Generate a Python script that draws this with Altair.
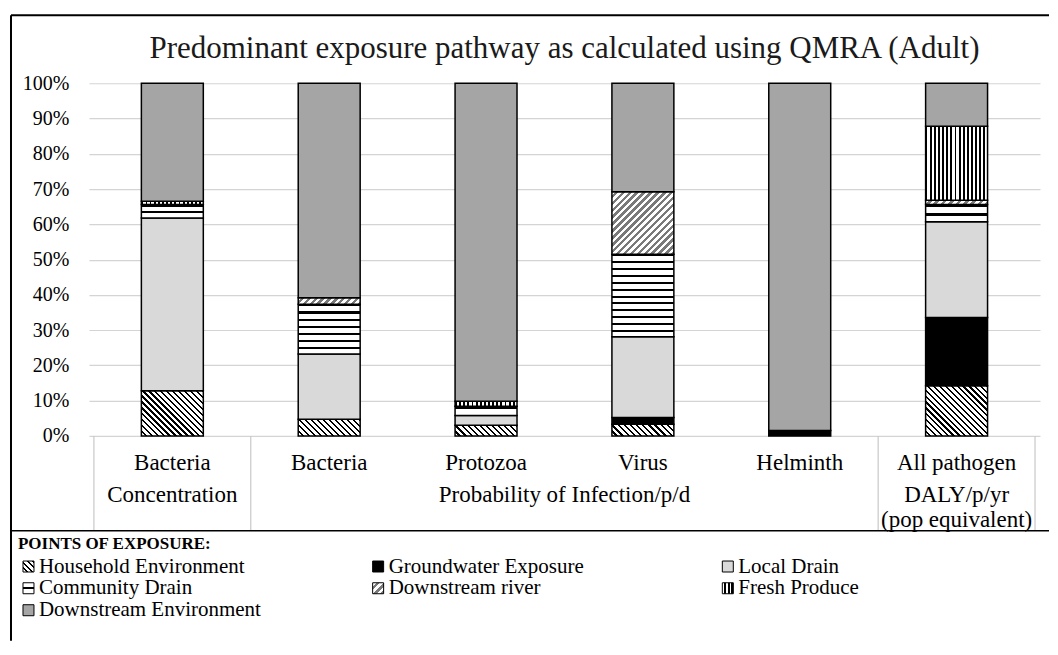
import json
import altair as alt
import pandas as pd

# ---------------- data ----------------
chart_title = "Predominant exposure pathway as calculated using QMRA (Adult)"
categories = ["Bacteria", "Bacteria", "Protozoa", "Virus", "Helminth", "All pathogen"]
# (label, first column, last column + 1)
measure_labels = [("Concentration", 0, 1), ("Probability of Infection/p/d", 1, 5), ("DALY/p/yr", 5, 6)]
note_labels = [("(pop equivalent)", 5, 6)]
series = ["Household Environment", "Groundwater Exposure", "Local Drain", "Community Drain",
          "Downstream river", "Fresh Produce", "Downstream Environment"]
household = [12.8, 4.7, 3.0, 3.3, 0.0, 14.2]
groundwater = [0.0, 0.0, 0.0, 1.9, 1.5, 19.4]
local_drain = [49.0, 18.5, 2.8, 22.9, 0.0, 27.1]
community_drain = [3.8, 14.1, 2.6, 23.4, 0.0, 4.9]
downstream_river = [0.0, 1.9, 0.0, 17.7, 0.0, 1.2]
fresh_produce = [0.9, 0.0, 1.4, 0.0, 0.0, 21.0]
downstream_env = [33.5, 60.8, 90.2, 30.8, 98.5, 12.2]
values = [household, groundwater, local_drain, community_drain, downstream_river, fresh_produce, downstream_env]

# ---------------- layout / style ----------------
W, H, BARW = 952, 353, 62
FONT = "Liberation Serif"
TABLE_H = 95

rows = []
for i, cat in enumerate(categories):
    for j, s in enumerate(series):
        v = values[j][i]
        if v > 0:
            rows.append({"bar": i, "pos": i + 0.5, "series": s, "sidx": j, "share": v / 100.0})
df = pd.DataFrame(rows)


def stripes(n, c1, c2, frac):
    stops = []
    for i in range(n):
        a, b, c = i / n, (i + frac) / n, (i + 1) / n
        stops += [{"offset": round(a, 4), "color": c1}, {"offset": round(b, 4), "color": c1},
                  {"offset": round(b, 4), "color": c2}, {"offset": round(c, 4), "color": c2}]
    return stops


def diag(w, h, n, c1, c2, frac, back=True):
    r = h / w
    k = (1 + r) / (1 + r * r)
    if back:  # "\" lines
        return {"gradient": "linear", "x1": 0, "y1": 1, "x2": round(k, 4), "y2": round(1 - k * r, 4),
                "stops": stripes(n, c1, c2, frac)}
    return {"gradient": "linear", "x1": 0, "y1": 0, "x2": round(k, 4), "y2": round(k * r, 4),
            "stops": stripes(n, c1, c2, frac)}


def horiz(n, c1, c2, frac):
    return {"gradient": "linear", "x1": 0, "y1": 0, "x2": 0, "y2": 1, "stops": stripes(n, c1, c2, frac)}


def vert(n, c1, c2, frac):
    return {"gradient": "linear", "x1": 0, "y1": 0, "x2": 1, "y2": 0, "stops": stripes(n, c1, c2, frac)}


def seg_pattern(j, h):
    if j == 0:
        return diag(BARW, h, max(1, round((BARW + h) / 6)), "#ffffff", "#000000", 0.62, back=True)
    if j == 3:
        return horiz(max(1, round(h / 7)), "#000000", "#ffffff", 0.3)
    if j == 4:
        return diag(BARW, h, max(1, round((BARW + h) / 7)), "#ffffff", "#7a7a7a", 0.5, back=False)
    if j == 5:
        return vert(15, "#000000", "#ffffff", 0.45)
    return None


conds = []
for r in rows:
    g = seg_pattern(r["sidx"], r["share"] * H)
    if g is not None:
        conds.append({"test": f"datum.bar === {r['bar']} && datum.sidx === {r['sidx']}", "value": g})

community_symbol = {"gradient": "linear", "x1": 0, "y1": 0, "x2": 0, "y2": 1, "stops": [
    {"offset": 0, "color": "#ffffff"}, {"offset": 0.42, "color": "#ffffff"},
    {"offset": 0.42, "color": "#000000"}, {"offset": 0.58, "color": "#000000"},
    {"offset": 0.58, "color": "#ffffff"}, {"offset": 1, "color": "#ffffff"}]}
legend_fills = [
    alt.ExprRef(json.dumps(diag(1, 1, 4, "#ffffff", "#000000", 0.6, back=True))),
    "#000000",
    "#d9d9d9",
    alt.ExprRef(json.dumps(community_symbol)),
    alt.ExprRef(json.dumps(diag(1, 1, 3, "#ffffff", "#7a7a7a", 0.5, back=False))),
    alt.ExprRef(json.dumps(vert(3, "#ffffff", "#000000", 0.5))),
    "#a5a5a5",
]

bars = alt.Chart(df).mark_bar(size=BARW, stroke="black", strokeWidth=1.5).encode(
    x=alt.X("pos:Q", scale=alt.Scale(domain=[0, 6], nice=False, zero=False), axis=None),
    y=alt.Y("share:Q", stack="zero", scale=alt.Scale(domain=[0, 1], nice=False),
            axis=alt.Axis(format=".0%", values=[i / 10 for i in range(11)], title=None,
                          grid=True, gridColor="#d4d4d4", gridWidth=1.2, domain=False, ticks=False,
                          labelFont=FONT, labelFontSize=20, labelColor="black", labelPadding=20)),
    order=alt.Order("sidx:Q"),
    fill=alt.Fill("series:N",
                  scale=alt.Scale(domain=series, range=legend_fills),
                  condition=conds,
                  legend=alt.Legend(orient="none", legendX=-71, legendY=453, direction="horizontal",
                                    title="POINTS OF EXPOSURE:", titleFont=FONT, titleFontSize=17,
                                    titleFontWeight="bold", titleColor="black", titlePadding=3,
                                    titleLimit=600,
                                    labelFont=FONT, labelFontSize=21, labelColor="black",
                                    labelOffset=0, labelLimit=400,
                                    symbolType="square", symbolSize=121, symbolStrokeColor="black",
                                    symbolStrokeWidth=1, symbolOpacity=1,
                                    columns=3, gridAlign="all", columnPadding=106, rowPadding=0)),
)

cat_df = pd.DataFrame({"text": categories, "pos": [i + 0.5 for i in range(len(categories))]})
meas_df = pd.DataFrame({"text": [m[0] for m in measure_labels],
                        "pos": [(m[1] + m[2]) / 2 for m in measure_labels]})
note_df = pd.DataFrame({"text": [m[0] for m in note_labels],
                        "pos": [(m[1] + m[2]) / 2 for m in note_labels]})
bounds = sorted({b for m in measure_labels for b in (m[1], m[2])})
sep_df = pd.DataFrame({"b": bounds})


def label_layer(d, yoff):
    return alt.Chart(d).mark_text(font=FONT, fontSize=23, color="black", baseline="middle").encode(
        x="pos:Q", y=alt.value(H + yoff), text="text:N")


seps = alt.Chart(sep_df).mark_rule(color="#c8c8c8", strokeWidth=1.2).encode(
    x="b:Q", y=alt.value(H), y2=alt.value(H + TABLE_H))

one = pd.DataFrame({"k": [0]})
title_df = pd.DataFrame({"text": [chart_title]})
title = alt.Chart(title_df).mark_text(font=FONT, fontSize=31, color="#1a1a1a", baseline="middle").encode(
    x=alt.value(W / 2), y=alt.value(-34), text="text:N")
frame_top = alt.Chart(one).mark_rule(color="black", strokeWidth=2).encode(
    x=alt.value(-78), x2=alt.value(W + 9), y=alt.value(-68))
frame_left = alt.Chart(one).mark_rule(color="black", strokeWidth=2).encode(
    x=alt.value(-78), y=alt.value(-68), y2=alt.value(H + 205))
sep_line = alt.Chart(one).mark_rule(color="black", strokeWidth=1.5).encode(
    x=alt.value(-78), x2=alt.value(W + 9), y=alt.value(H + TABLE_H))

chart = alt.layer(
    bars,
    label_layer(cat_df, 27),
    label_layer(meas_df, 59),
    label_layer(note_df, 84),
    seps, sep_line, title, frame_top, frame_left,
).properties(
    width=W, height=H,
    padding={"left": 2, "top": 6, "right": 0, "bottom": 0},
).configure_view(stroke=None)

chart.save("out.html", embed_options={"renderer": "svg", "actions": False})
